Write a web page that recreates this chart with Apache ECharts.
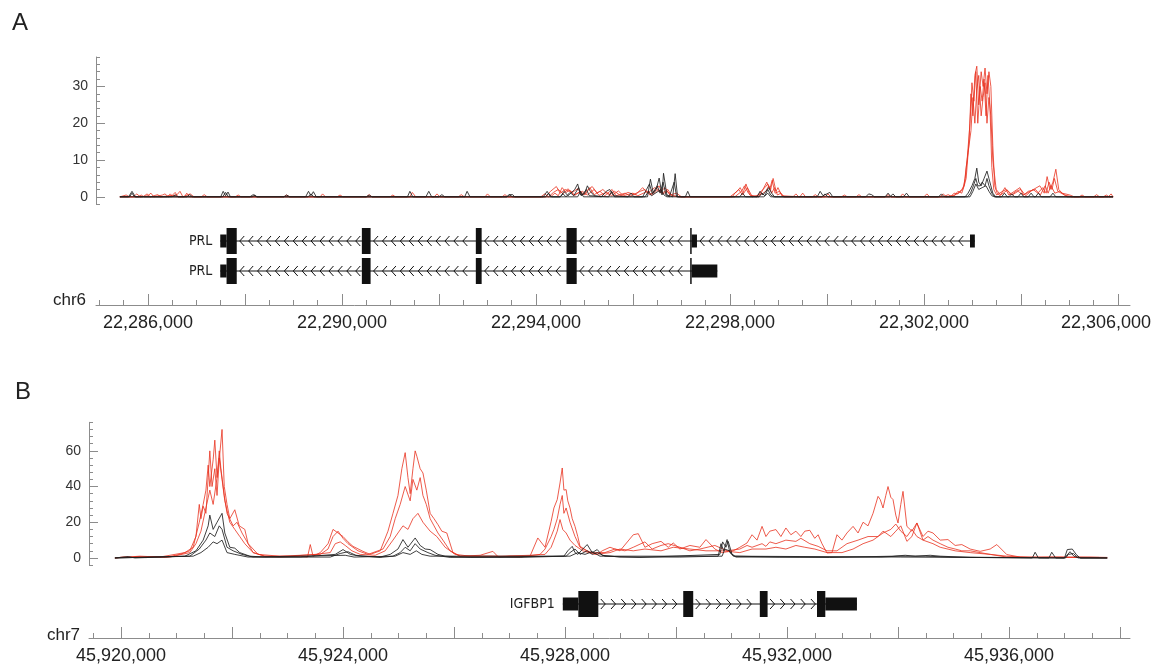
<!DOCTYPE html>
<html><head><meta charset="utf-8">
<script src="https://cdn.jsdelivr.net/npm/echarts@6/dist/echarts.min.js"></script>
<style>html,body{margin:0;padding:0;background:#fff}#c{width:1152px;height:671px}</style>
</head><body><div id="c"></div>
<script>
// ---------- DATA (positions in kb, values = signal) ----------
const A_yTicks = [0, 10, 20, 30];
const B_yTicks = [0, 20, 40, 60];
const A_majorTicks = [22286, 22288, 22290, 22292, 22294, 22296, 22298, 22300, 22302, 22304, 22306];
const A_labelTicks = [22286, 22290, 22294, 22298, 22302, 22306];
const B_majorTicks = [45920, 45922, 45924, 45926, 45928, 45930, 45932, 45934, 45936, 45938];
const B_labelTicks = [45920, 45924, 45928, 45932, 45936];

const A_red1 = [[22285.42,0],[22285.70,0],[22285.77,0.8],[22285.84,0],[22286.00,0.3],[22286.06,1.0],[22286.12,0],[22286.30,0.5],[22286.35,0.8],[22286.42,0],[22286.60,0.6],[22286.66,1.5],[22286.72,0],[22286.87,0.8],[22286.95,0],[22288.41,0],[22288.45,0.5],[22288.50,0],[22289.55,0],[22289.60,0.8],[22289.66,0],[22290.99,0],[22291.05,0.5],[22291.10,0],[22291.40,0],[22291.45,1.2],[22291.52,0],[22292.95,0],[22293.00,0.8],[22293.06,0],[22294.30,0],[22294.39,1],[22294.46,0.3],[22294.54,2.5],[22294.62,1.2],[22294.70,1.8],[22294.80,0.4],[22294.91,1.5],[22295.01,0.5],[22295.11,2.5],[22295.20,0.6],[22295.32,1.5],[22295.42,0.3],[22295.57,2],[22295.65,0.3],[22295.84,1],[22295.94,0.2],[22296.15,1.5],[22296.25,2],[22296.35,0.5],[22296.54,3],[22296.60,1],[22296.72,2],[22296.80,0.3],[22296.97,0],[22298.00,0],[22298.15,1.5],[22298.21,2.5],[22298.27,1],[22298.33,3.5],[22298.41,0.5],[22298.55,0],[22298.62,1.2],[22298.72,2.5],[22298.78,3.5],[22298.84,2],[22298.89,5],[22298.95,1.5],[22298.99,2.5],[22299.07,0.3],[22299.44,0],[22299.50,1],[22299.56,0],[22299.96,0],[22300.02,0.8],[22300.08,0],[22301.51,0],[22301.56,0.8],[22301.62,0],[22302.33,0],[22302.40,0.8],[22302.46,0],[22302.64,0.5],[22302.70,1.5],[22302.78,1],[22302.83,3],[22302.87,5],[22302.93,15],[22302.97,28],[22303.01,22],[22303.05,33],[22303.09,35.5],[22303.13,25],[22303.18,34],[22303.22,30],[22303.26,35],[22303.30,28],[22303.34,34],[22303.38,30],[22303.42,14],[22303.46,3],[22303.51,1],[22303.57,0.3],[22303.67,2.5],[22303.75,0.5],[22303.98,2.5],[22304.05,0.5],[22304.19,1.5],[22304.39,3],[22304.48,1],[22304.54,5.5],[22304.60,2],[22304.66,4],[22304.72,7.5],[22304.78,2],[22304.85,1],[22305.01,0.5],[22305.10,0],[22305.80,0],[22305.86,0.8],[22305.90,0]];
const A_red2 = [[22285.42,0],[22285.55,0.5],[22285.62,0],[22285.90,0],[22285.98,0.8],[22286.05,0],[22286.20,0.6],[22286.26,0],[22286.50,0.4],[22286.56,1.2],[22286.62,0],[22287.10,0],[22287.16,0.6],[22287.22,0],[22288.80,0],[22288.86,0.5],[22288.92,0],[22290.50,0],[22290.56,0.6],[22290.62,0],[22291.90,0],[22291.96,0.8],[22292.02,0],[22293.30,0],[22293.36,0.6],[22293.42,0],[22294.20,0],[22294.30,1.5],[22294.42,2.8],[22294.50,1],[22294.60,2],[22294.75,1.2],[22294.86,2.2],[22294.96,0.5],[22295.06,1.8],[22295.16,2.8],[22295.26,1],[22295.38,2],[22295.50,0.5],[22295.62,1.5],[22295.75,0.3],[22295.90,1.2],[22296.05,0.5],[22296.20,2.5],[22296.30,1],[22296.45,2.5],[22296.58,1.5],[22296.66,2.5],[22296.76,0.5],[22296.90,1],[22297.00,0],[22298.05,0],[22298.10,1],[22298.18,2],[22298.26,0.5],[22298.36,2.5],[22298.45,0.3],[22298.60,0],[22298.68,2],[22298.76,4],[22298.82,2],[22298.87,4.5],[22298.93,1],[22299.02,1.5],[22299.10,0],[22299.70,0],[22299.76,0.6],[22299.82,0],[22300.60,0],[22300.66,0.6],[22300.72,0],[22302.00,0],[22302.06,0.8],[22302.12,0],[22302.55,0],[22302.62,1],[22302.70,0.8],[22302.80,2],[22302.85,5],[22302.89,10],[22302.95,20],[22302.99,31],[22303.03,26],[22303.07,34],[22303.11,20],[22303.16,30],[22303.20,26],[22303.24,32],[22303.28,22],[22303.32,33],[22303.36,25],[22303.40,8],[22303.44,2],[22303.50,0.5],[22303.62,1.5],[22303.70,2],[22303.80,0.5],[22303.90,1.5],[22304.00,2],[22304.10,0.3],[22304.25,2],[22304.35,1],[22304.45,2.5],[22304.52,1],[22304.58,4],[22304.64,2],[22304.69,5],[22304.76,1.5],[22304.90,0.5],[22305.05,0],[22305.50,0],[22305.56,0.6],[22305.62,0],[22305.90,0]];
const A_red3 = [[22285.42,0],[22285.80,0],[22285.86,0.5],[22285.92,0],[22286.40,0],[22286.46,0.8],[22286.52,0],[22286.75,0],[22286.80,1],[22286.86,0],[22287.80,0],[22287.86,0.5],[22287.92,0],[22289.90,0],[22289.96,0.5],[22290.02,0],[22292.40,0],[22292.46,0.6],[22292.52,0],[22294.10,0],[22294.18,0.8],[22294.26,0],[22294.36,1.2],[22294.46,2],[22294.56,0.8],[22294.66,2.2],[22294.78,0.5],[22294.96,1.5],[22295.06,0.5],[22295.20,2],[22295.30,0.4],[22295.46,1.2],[22295.56,0.3],[22295.70,1.6],[22295.80,0.3],[22296.00,1],[22296.10,0.3],[22296.30,1.5],[22296.40,0.5],[22296.50,1.8],[22296.62,0.8],[22296.70,1.5],[22296.82,0.3],[22297.00,0],[22298.10,0],[22298.24,1.5],[22298.30,3],[22298.38,1],[22298.46,0],[22298.66,0.8],[22298.74,1.5],[22298.80,3],[22298.86,1],[22298.92,2.5],[22298.98,0.5],[22299.05,1],[22299.12,0],[22299.30,0],[22299.36,0.8],[22299.42,0],[22300.30,0],[22300.36,0.5],[22300.42,0],[22301.20,0],[22301.26,0.6],[22301.32,0],[22302.40,0],[22302.50,0.6],[22302.58,0],[22302.70,1],[22302.78,2],[22302.83,3],[22302.87,8],[22302.91,12],[22302.97,18],[22303.01,27],[22303.05,20],[22303.09,29],[22303.13,33],[22303.18,22],[22303.22,27],[22303.26,31],[22303.30,20],[22303.34,27],[22303.38,22],[22303.42,10],[22303.49,2],[22303.53,1.5],[22303.58,0.5],[22303.72,1.8],[22303.82,0.5],[22303.94,1.5],[22304.06,0.5],[22304.15,1.5],[22304.30,2],[22304.40,0.5],[22304.50,3],[22304.56,1],[22304.62,3],[22304.70,1],[22304.80,1.5],[22304.95,0],[22305.20,0],[22305.26,0.5],[22305.32,0],[22305.70,0],[22305.76,0.5],[22305.82,0],[22305.90,0]];
const A_blk1 = [[22285.42,0],[22285.60,0],[22285.67,1.5],[22285.74,0],[22287.50,0],[22287.55,1.5],[22287.60,0.3],[22287.65,1.3],[22287.70,0],[22288.10,0],[22288.17,0.6],[22288.24,0],[22289.25,0],[22289.31,1.5],[22289.36,0.3],[22289.41,1.4],[22289.47,0],[22291.35,0],[22291.40,1.5],[22291.46,0],[22291.73,0],[22291.79,1.5],[22291.85,0],[22292.53,0],[22292.58,1.5],[22292.64,0],[22293.40,0],[22293.44,0.6],[22293.48,0.5],[22293.52,0.6],[22293.56,0],[22294.15,0],[22294.23,1.5],[22294.30,0],[22294.50,0],[22294.58,1.5],[22294.66,0.3],[22294.80,2],[22294.86,3.5],[22294.92,0.5],[22295.00,0.8],[22295.06,3],[22295.12,1.5],[22295.20,0.3],[22295.35,0],[22295.45,1.5],[22295.52,2],[22295.60,0.3],[22295.90,0],[22295.96,1],[22296.02,0],[22296.30,0],[22296.36,4.8],[22296.42,1],[22296.48,2],[22296.54,5.1],[22296.60,0.5],[22296.63,6.4],[22296.70,0.5],[22296.82,0],[22296.87,6.3],[22296.92,0],[22297.08,0],[22297.13,1.5],[22297.18,0],[22298.20,0],[22298.26,1],[22298.32,0],[22298.56,0],[22298.62,1.5],[22298.68,0.5],[22298.80,2.5],[22298.86,1],[22298.92,0],[22299.80,0],[22299.86,1.5],[22299.92,0.3],[22300.06,1.2],[22300.12,0],[22300.80,0],[22300.86,0.8],[22300.92,0.6],[22300.98,0],[22301.20,0],[22301.26,1],[22301.32,0],[22301.58,0],[22301.64,1],[22301.70,0],[22302.30,0],[22302.36,0.8],[22302.42,0],[22302.85,0],[22302.91,1],[22302.99,3],[22303.05,5],[22303.09,7.8],[22303.13,4],[22303.18,3],[22303.24,5],[22303.30,7],[22303.34,5],[22303.38,3],[22303.42,1],[22303.48,0],[22303.60,0],[22303.66,1],[22303.72,0],[22303.94,0],[22304.00,1],[22304.06,0],[22304.30,0],[22304.36,1],[22304.42,0],[22304.60,0],[22304.66,1],[22304.72,0],[22305.90,0]];
const A_blk2 = [[22285.42,0],[22285.62,0],[22285.67,1],[22285.72,0],[22286.80,0],[22286.86,0.6],[22286.92,0],[22287.54,0],[22287.60,1.2],[22287.66,0],[22288.80,0],[22288.86,0.5],[22288.92,0],[22290.50,0],[22290.56,0.5],[22290.62,0],[22293.40,0],[22293.46,0.5],[22293.52,0],[22294.20,0],[22294.26,1],[22294.32,0],[22294.62,0],[22294.70,1.2],[22294.78,0.3],[22294.88,2.5],[22294.94,0.3],[22295.04,2],[22295.10,0.3],[22295.50,0],[22295.56,1.5],[22295.62,0],[22296.20,0],[22296.28,2],[22296.34,3.5],[22296.40,0.8],[22296.50,3],[22296.56,1],[22296.62,4],[22296.68,0.5],[22296.75,0],[22296.85,4],[22296.90,0],[22297.00,0],[22298.60,0],[22298.66,1],[22298.72,0.3],[22298.78,2],[22298.84,0.5],[22298.90,0],[22299.90,0],[22299.96,0.8],[22300.02,0],[22301.30,0],[22301.36,0.8],[22301.42,0],[22302.90,0],[22302.96,1],[22303.02,3],[22303.07,5],[22303.11,3],[22303.16,3],[22303.20,4],[22303.26,3],[22303.30,5],[22303.34,3],[22303.40,1],[22303.46,0],[22303.75,0],[22303.81,0.8],[22303.87,0],[22304.15,0],[22304.21,1],[22304.27,0],[22305.90,0]];
const A_blk3 = [[22285.42,0],[22286.50,0],[22286.56,0.5],[22286.62,0],[22288.15,0],[22288.20,0.5],[22288.25,0],[22289.30,0],[22289.36,0.8],[22289.42,0],[22292.00,0],[22292.06,0.6],[22292.12,0],[22294.50,0],[22294.56,0.8],[22294.62,0],[22294.86,0],[22294.92,1.5],[22294.98,0],[22296.25,0],[22296.32,1.5],[22296.38,0.3],[22296.58,2],[22296.64,0.5],[22296.70,0],[22298.70,0],[22298.78,1],[22298.84,0],[22302.95,0],[22303.01,1.5],[22303.07,3.5],[22303.13,2],[22303.20,2.5],[22303.28,3],[22303.34,1.5],[22303.40,0.3],[22303.46,0],[22305.90,0]];

const B_red1 = [[45919.89,0],[45920.05,0.5],[45920.16,0.3],[45920.30,0.8],[45920.45,0.2],[45920.60,0.6],[45920.80,0.3],[45921.06,2],[45921.24,4],[45921.35,12],[45921.41,30],[45921.44,22],[45921.48,29],[45921.53,25],[45921.57,45],[45921.60,60],[45921.64,40],[45921.69,50],[45921.73,35],[45921.77,55],[45921.82,72],[45921.86,40],[45921.91,30],[45921.96,22],[45922.05,27],[45922.13,18],[45922.23,16],[45922.29,8],[45922.38,3],[45922.59,1],[45922.86,0.5],[45923.23,1],[45923.36,0.5],[45923.41,7.5],[45923.46,1],[45923.59,3],[45923.73,8],[45923.82,16],[45923.91,14],[45924.00,12],[45924.09,9],[45924.18,6.5],[45924.36,3.7],[45924.49,2],[45924.67,4],[45924.81,15],[45924.90,25],[45924.99,35],[45925.06,50],[45925.12,59],[45925.17,45],[45925.21,36],[45925.26,50],[45925.30,60],[45925.33,57],[45925.39,50],[45925.44,47.6],[45925.50,38],[45925.57,25],[45925.64,22],[45925.71,18.7],[45925.78,15],[45925.87,14],[45925.98,3],[45926.11,1],[45926.47,1.5],[45926.70,3.7],[45926.80,0.5],[45927.01,1],[45927.37,1],[45927.51,11.2],[45927.64,6],[45927.75,20.5],[45927.80,28],[45927.86,32.7],[45927.91,42],[45927.95,50.4],[45927.98,38],[45928.02,38.3],[45928.05,32],[45928.09,28],[45928.13,22],[45928.18,17.7],[45928.23,12],[45928.27,6.5],[45928.40,4],[45928.58,2],[45928.67,4],[45928.81,6],[45928.99,4],[45929.23,13],[45929.32,13.6],[45929.44,6],[45929.57,8],[45929.73,9.3],[45929.86,6],[45929.95,8.4],[45930.07,5],[45930.25,7],[45930.43,6],[45930.54,10.3],[45930.70,5],[45930.83,3],[45931.03,4],[45931.15,6],[45931.28,8.4],[45931.37,13],[45931.46,10],[45931.55,17.7],[45931.62,12],[45931.69,15],[45931.80,15.9],[45931.89,12],[45931.98,16.8],[45932.07,13],[45932.16,15],[45932.25,12],[45932.32,15],[45932.41,15.5],[45932.50,11],[45932.56,13],[45932.63,8],[45932.72,2.8],[45932.81,3],[45932.90,13],[45932.99,10],[45933.08,14],[45933.19,17.7],[45933.28,14],[45933.37,20],[45933.46,18],[45933.55,25],[45933.64,34.5],[45933.68,32.7],[45933.73,28],[45933.78,35],[45933.82,40],[45933.87,34],[45933.91,32.7],[45933.96,24],[45934.00,19.6],[45934.05,30],[45934.09,37.3],[45934.16,17.7],[45934.25,15],[45934.34,19.6],[45934.45,12],[45934.54,15],[45934.63,14],[45934.76,10],[45934.90,10.3],[45935.03,7],[45935.15,7.5],[45935.30,5],[45935.48,3.7],[45935.66,5],[45935.78,7.5],[45935.96,1.9],[45936.20,0.5],[45936.74,0.5],[45937.10,0.3],[45937.46,0.5],[45937.77,0.3]];
const B_red2 = [[45919.89,0],[45920.34,1],[45920.70,0.5],[45921.15,3],[45921.30,6],[45921.41,20],[45921.48,30],[45921.53,38],[45921.57,52],[45921.60,40],[45921.66,55],[45921.69,66],[45921.73,45],[45921.77,60],[45921.80,50],[45921.86,35],[45921.91,25],[45922.02,18],[45922.09,20],[45922.18,14],[45922.29,8],[45922.47,2],[45922.86,1],[45923.23,1.5],[45923.59,2],[45923.73,5],[45923.82,12],[45923.91,15],[45924.00,11],[45924.09,8],[45924.18,6],[45924.27,4],[45924.45,2],[45924.72,5],[45924.85,12],[45924.94,22],[45925.03,30],[45925.12,40],[45925.21,32],[45925.26,44],[45925.33,38],[45925.39,45],[45925.44,35],[45925.50,30],[45925.57,22],[45925.64,18],[45925.71,14],[45925.80,10],[45925.93,4],[45926.11,1],[45926.65,1],[45927.19,0.5],[45927.55,2],[45927.64,5],[45927.75,12],[45927.80,16],[45927.86,22],[45927.91,30],[45927.95,35],[45927.98,25],[45928.02,28],[45928.09,20],[45928.18,12],[45928.27,6],[45928.45,3],[45928.72,3],[45928.90,5],[45929.08,4],[45929.23,6],[45929.44,9],[45929.57,5],[45929.73,7],[45929.86,8],[45930.07,6],[45930.25,4],[45930.43,5],[45930.70,7],[45930.92,4],[45931.15,5],[45931.28,7],[45931.37,6],[45931.55,8],[45931.62,6.5],[45931.69,9],[45931.80,8],[45931.98,10],[45932.16,9.3],[45932.25,11],[45932.41,8],[45932.56,6.5],[45932.72,4],[45932.90,4],[45933.08,8],[45933.28,10],[45933.46,12],[45933.64,12],[45933.73,15],[45933.78,14],[45933.87,12],[45933.96,15],[45934.05,18],[45934.16,9.3],[45934.25,12],[45934.34,19.6],[45934.45,10],[45934.54,12],[45934.63,10],[45934.76,8],[45934.90,6],[45935.03,5],[45935.15,4],[45935.30,4],[45935.48,3],[45935.66,2],[45935.96,1],[45936.38,0.3],[45936.92,0.5],[45937.62,0.3]];
const B_red3 = [[45919.98,0.3],[45920.52,0.8],[45920.88,0.5],[45921.24,3],[45921.35,8],[45921.44,15],[45921.53,28],[45921.60,38],[45921.66,30],[45921.73,45],[45921.77,56],[45921.82,44],[45921.87,32],[45921.96,20],[45922.05,16],[45922.14,12],[45922.23,8],[45922.38,3],[45922.59,1],[45923.05,1],[45923.50,2],[45923.77,3],[45923.86,8],[45923.95,9],[45924.04,7],[45924.16,4],[45924.31,2],[45924.58,1.5],[45924.76,4],[45924.90,10],[45924.99,14],[45925.08,18],[45925.17,16],[45925.26,22],[45925.35,25],[45925.44,20],[45925.57,15],[45925.69,12],[45925.84,6],[45926.02,2],[45926.29,1],[45926.83,1],[45927.37,1.5],[45927.64,2],[45927.75,6],[45927.80,10],[45927.86,15],[45927.91,21.5],[45927.96,15.9],[45928.02,14],[45928.09,10],[45928.18,7],[45928.32,4],[45928.54,2],[45928.81,3],[45928.99,5],[45929.23,4],[45929.44,5],[45929.73,4],[45929.95,6],[45930.25,5],[45930.54,4],[45930.83,4],[45931.15,3],[45931.37,5],[45931.62,5],[45931.80,6],[45931.98,5],[45932.16,7],[45932.32,6],[45932.50,5],[45932.72,3],[45932.99,3],[45933.19,5],[45933.37,8],[45933.55,10],[45933.73,14],[45933.87,16],[45933.96,19],[45934.05,15],[45934.16,12],[45934.25,16],[45934.34,12],[45934.45,10],[45934.63,8],[45934.76,6],[45935.03,4],[45935.30,3],[45935.66,2],[45935.96,0.5],[45936.56,0.3],[45937.28,0.4],[45937.77,0]];
const B_blk1 = [[45919.89,0],[45920.13,0.8],[45920.25,0],[45921.15,1],[45921.35,4],[45921.48,10],[45921.57,18],[45921.60,24],[45921.66,16],[45921.73,20],[45921.82,25],[45921.87,14],[45921.96,6],[45922.05,5.5],[45922.14,3],[45922.32,1],[45922.59,0.5],[45923.23,0.5],[45923.86,2],[45924.00,4.7],[45924.13,2],[45924.31,1],[45924.67,0.5],[45924.85,2],[45924.99,5],[45925.08,10.3],[45925.17,6],[45925.30,11.2],[45925.39,7],[45925.48,5],[45925.57,4.7],[45925.71,2],[45925.84,1],[45926.29,0.3],[45927.19,0.3],[45927.98,1],[45928.05,4],[45928.13,6.5],[45928.18,3],[45928.23,2],[45928.32,5],[45928.40,7.5],[45928.49,3],[45928.58,4.7],[45928.67,1.5],[45928.99,0.5],[45930.07,0.5],[45930.76,1],[45930.81,8],[45930.86,4],[45930.92,10.3],[45930.97,3],[45931.06,1],[45931.87,0.5],[45932.77,0.3],[45933.91,1],[45934.13,1.5],[45934.31,1],[45934.58,1.5],[45934.76,1],[45935.30,0.3],[45936.42,0],[45936.47,3.2],[45936.53,0],[45936.72,0],[45936.77,3.2],[45936.84,0],[45937.00,0],[45937.05,4.7],[45937.14,5],[45937.21,2],[45937.28,0],[45937.77,0]];
const B_blk2 = [[45919.89,0],[45920.52,0.5],[45921.24,1],[45921.41,5],[45921.53,10],[45921.60,14],[45921.69,12],[45921.77,18],[45921.82,16],[45921.91,6],[45922.02,4],[45922.18,2],[45922.38,0.5],[45923.77,0.5],[45923.95,2.5],[45924.09,3.5],[45924.23,1.5],[45924.67,0.3],[45924.90,1],[45925.03,3],[45925.12,6],[45925.21,4],[45925.30,8],[45925.39,5],[45925.53,3],[45925.66,1.5],[45925.93,0.3],[45928.02,1],[45928.09,3],[45928.18,5],[45928.27,2],[45928.40,4],[45928.49,2],[45928.58,3],[45928.72,1],[45929.35,0.3],[45930.79,2],[45930.84,9],[45930.90,6],[45930.94,9.3],[45931.01,2],[45931.08,0.5],[45932.23,0.5],[45933.68,0.5],[45934.00,1],[45934.22,1],[45934.49,1],[45934.94,0.5],[45935.84,0.3],[45937.00,0],[45937.03,1],[45937.10,3.5],[45937.17,1],[45937.25,0],[45937.77,0]];
const B_blk3 = [[45919.89,0],[45921.30,1],[45921.44,3],[45921.57,6],[45921.66,9],[45921.73,8],[45921.82,10],[45921.91,3],[45922.05,2],[45922.29,0.5],[45924.04,1.5],[45924.20,0.5],[45924.94,1],[45925.08,3],[45925.21,2],[45925.32,4],[45925.42,2],[45925.57,1],[45928.09,1],[45928.23,3],[45928.36,2],[45928.49,3.5],[45928.63,1],[45930.83,1],[45930.88,5],[45930.96,4],[45931.03,1],[45934.05,0.5],[45937.02,0],[45937.07,2],[45937.16,2.5],[45937.23,0.5],[45937.30,0],[45937.77,0]];

// gene models: [start, end, isCoding]
const PRL_names = ['PRL', 'PRL'];
const PRL_spans = [[22287.49, 22303.05], [22287.49, 22297.74]];
const PRL_exons = [
  [[22287.49,22287.62,0],[22287.62,22287.83,1],[22290.41,22290.59,1],[22292.76,22292.88,1],[22294.63,22294.84,1],[22297.18,22297.21,1],[22297.21,22297.32,0],[22302.95,22303.05,0]],
  [[22287.49,22287.62,0],[22287.62,22287.83,1],[22290.41,22290.59,1],[22292.76,22292.88,1],[22294.63,22294.84,1],[22297.18,22297.21,1],[22297.21,22297.74,0]]
];
const IGF_names = ['IGFBP1'];
const IGF_spans = [[45927.96, 45933.26]];
const IGF_exons = [
  [[45927.96,45928.24,0],[45928.24,45928.60,1],[45930.13,45930.31,1],[45931.51,45931.65,1],[45932.54,45932.69,1],[45932.69,45933.26,0]]
];
const CHEV_KB = 0.184;

// ---------- LAYOUT ----------
const A_MIN = 22284.928, A_MAX = 22306.249;
const B_MIN = 45919.423, B_MAX = 45938.18;
const AX = '#8c8c8c';
const SANS = '"Liberation Sans", Arial, sans-serif';
const NARROW = '"Liberation Sans Narrow", "Arial Narrow", "DejaVu Sans Condensed", "Liberation Sans", sans-serif';

function minorList(a, b) { const r = []; for (let v = a; v <= b + 1e-6; v += 0.5) r.push(+v.toFixed(1)); return r; }

function chrAxes(grid, min, max, major, labels, minor) {
  const lastLabel = labels[labels.length - 1];
  const edgeShift = max - lastLabel < 0.5; // last label sits at the right edge: keep it inside the picture
  return [
    { gridIndex: grid, type: 'value', min, max, position: 'bottom',
      axisLine: { show: true, onZero: false, lineStyle: { color: AX, width: 1 } },
      axisTick: { show: true, inside: true, length: 11, customValues: major, lineStyle: { color: AX } },
      axisLabel: { show: true, customValues: labels, margin: 9, color: '#222', fontSize: 18, fontFamily: SANS,
        formatter: v => {
          const s = Math.round(v * 1000).toLocaleString('en-US');
          return (edgeShift && Math.abs(v - lastLabel) < 1e-6) ? '{e|' + s + '}' : s;
        },
        rich: { e: { width: 114, align: 'left', fontSize: 18, fontFamily: SANS, color: '#222' } } },
      splitLine: { show: false } },
    { gridIndex: grid, type: 'value', min, max, position: 'bottom',
      axisLine: { show: false },
      axisTick: { show: true, inside: true, length: 5, customValues: minor, lineStyle: { color: AX } },
      axisLabel: { show: false }, splitLine: { show: false } }
  ];
}
function hiddenX(grid, min, max) { return { gridIndex: grid, type: 'value', min, max, show: false }; }
function sigY(grid, min, max, ticks, minorInt) {
  return [
    { gridIndex: grid, type: 'value', min, max, position: 'left',
      axisLine: { show: true, onZero: false, lineStyle: { color: AX } },
      axisTick: { show: true, inside: true, length: 9, customValues: ticks, lineStyle: { color: AX } },
      axisLabel: { customValues: ticks, margin: 8, color: '#333', fontSize: 14, fontFamily: SANS },
      splitLine: { show: false } },
    { gridIndex: grid, type: 'value', min, max, interval: minorInt, position: 'left',
      axisLine: { show: false },
      axisTick: { show: true, inside: true, length: 4, lineStyle: { color: AX } },
      axisLabel: { show: false }, splitLine: { show: false } }
  ];
}

function geneRenderer(exonSets, names, strand) {
  return function (params, api) {
    const i = params.dataIndex;
    const row = api.value(2);
    const p0 = api.coord([api.value(0), row]);
    const p1 = api.coord([api.value(1), row]);
    const y = p0[1];
    const kids = [{ type: 'line', shape: { x1: p0[0], y1: y, x2: p1[0], y2: y }, style: { stroke: '#111', lineWidth: 1 } }];
    const ex = exonSets[i];
    const step = api.size([CHEV_KB, 0])[0];
    for (let k = 0; k < ex.length - 1; k++) {
      const a = api.coord([ex[k][1], row])[0];
      const b = api.coord([ex[k + 1][0], row])[0];
      for (let cx = a + 5; cx < b - 3; cx += step) {
        const pts = strand < 0
          ? [[cx + 2.5, y - 5], [cx - 2, y], [cx + 2.5, y + 5]]
          : [[cx - 2.5, y - 5], [cx + 2, y], [cx - 2.5, y + 5]];
        kids.push({ type: 'polyline', shape: { points: pts }, style: { stroke: '#111', lineWidth: 1, fill: null } });
      }
    }
    for (const e of ex) {
      const a = api.coord([e[0], row])[0], b = api.coord([e[1], row])[0];
      const h = e[2] ? 26 : 13;
      kids.push({ type: 'rect', shape: { x: a, y: y - h / 2, width: Math.max(b - a, 1.5), height: h }, style: { fill: '#111' } });
    }
    kids.push({ type: 'text', style: { text: names[i], x: p0[0] - 8, y: y, align: 'right', verticalAlign: 'middle',
      font: '14px ' + NARROW, fill: '#222' } });
    return { type: 'group', children: kids };
  };
}

function lineSeries(data, xi, yi, color, op) {
  return { type: 'line', data, xAxisIndex: xi, yAxisIndex: yi, showSymbol: false, symbol: 'none', silent: true,
    lineStyle: { width: 1, color, opacity: op }, itemStyle: { color } };
}

const RED = '#e8321f', BLK = '#1e1e1e';
function G(o) { return Object.assign({ containLabel: false, outerBoundsMode: 'none' }, o); }

const option = {
  animation: false,
  backgroundColor: '#ffffff',
  grid: [
    G({ left: 96, right: 22, top: 57, height: 147.2 }),
    G({ left: 96, right: 22, top: 226, height: 60 }),
    G({ left: 96, right: 22, top: 304, height: 1 }),
    G({ left: 89, right: 22, top: 422.3, height: 142.8 }),
    G({ left: 89, right: 22, top: 589, height: 30 }),
    G({ left: 89, right: 22, top: 637, height: 1 })
  ],
  xAxis: [
    hiddenX(0, A_MIN, A_MAX),
    hiddenX(1, A_MIN, A_MAX),
    ...chrAxes(2, A_MIN, A_MAX, A_majorTicks, A_labelTicks, minorList(22285, 22306)),
    hiddenX(3, B_MIN, B_MAX),
    hiddenX(4, B_MIN, B_MAX),
    ...chrAxes(5, B_MIN, B_MAX, B_majorTicks, B_labelTicks, minorList(45919.5, 45938))
  ],
  yAxis: [
    ...sigY(0, -2, 38, A_yTicks, 2),
    { gridIndex: 1, type: 'category', data: ['PRL-1', 'PRL-2'], inverse: true, show: false },
    { gridIndex: 2, type: 'value', min: 0, max: 1, show: false },
    ...sigY(3, -4, 76, B_yTicks, 4),
    { gridIndex: 4, type: 'category', data: ['IGFBP1'], inverse: true, show: false },
    { gridIndex: 5, type: 'value', min: 0, max: 1, show: false }
  ],
  graphic: [
    { type: 'text', left: 12, top: 11, style: { text: 'A', font: '24px ' + SANS, fill: '#222' } },
    { type: 'text', left: 15, top: 380, style: { text: 'B', font: '24px ' + SANS, fill: '#222' } },
    { type: 'text', right: 1152 - 86, top: 292, style: { text: 'chr6', font: '17px ' + SANS, fill: '#222' } },
    { type: 'text', right: 1152 - 80, top: 627, style: { text: 'chr7', font: '17px ' + SANS, fill: '#222' } }
  ],
  series: [
    lineSeries(A_red1, 0, 0, RED, 0.8),
    lineSeries(A_red2, 0, 0, RED, 0.8),
    lineSeries(A_red3, 0, 0, RED, 0.8),
    lineSeries(A_blk1, 0, 0, BLK, 0.85),
    lineSeries(A_blk2, 0, 0, BLK, 0.85),
    lineSeries(A_blk3, 0, 0, BLK, 0.85),
    { type: 'custom', xAxisIndex: 1, yAxisIndex: 2, silent: true,
      renderItem: geneRenderer(PRL_exons, PRL_names, -1),
      encode: { x: [0, 1], y: 2 },
      data: PRL_spans.map((s, i) => [s[0], s[1], i]) },
    lineSeries(B_red1, 4, 4, RED, 0.8),
    lineSeries(B_red2, 4, 4, RED, 0.8),
    lineSeries(B_red3, 4, 4, RED, 0.8),
    lineSeries(B_blk1, 4, 4, BLK, 0.85),
    lineSeries(B_blk2, 4, 4, BLK, 0.85),
    lineSeries(B_blk3, 4, 4, BLK, 0.85),
    { type: 'custom', xAxisIndex: 5, yAxisIndex: 6, silent: true,
      renderItem: geneRenderer(IGF_exons, IGF_names, 1),
      encode: { x: [0, 1], y: 2 },
      data: IGF_spans.map((s, i) => [s[0], s[1], i]) }
  ]
};

const chart = echarts.init(document.getElementById('c'), null, { renderer: 'canvas' });
chart.setOption(option);
</script></body></html>
